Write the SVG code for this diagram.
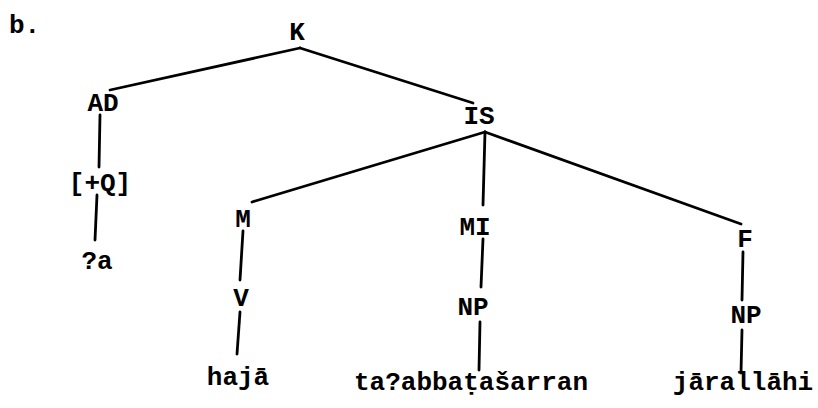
<svg xmlns="http://www.w3.org/2000/svg" width="818" height="408" viewBox="0 0 818 408">
<style>
text{font-family:"Liberation Mono","DejaVu Sans Mono",monospace;font-size:26px;font-weight:bold;fill:#000;text-anchor:middle}
.e line{stroke:#000;stroke-width:2.8;stroke-linecap:round}
</style>
<rect width="818" height="408" fill="#fff"/>
<text x="9" y="33" style="text-anchor:start">b.</text>
<g class="e" id="edges">
<line x1="300" y1="48" x2="110" y2="90"/>
<line x1="300" y1="48" x2="473" y2="103"/>
<line x1="100" y1="115" x2="99" y2="167"/>
<line x1="97" y1="195" x2="95" y2="240"/>
<line x1="485" y1="132" x2="252" y2="202"/>
<line x1="485" y1="132" x2="483" y2="205"/>
<line x1="485" y1="132" x2="741" y2="224"/>
<line x1="243" y1="231" x2="240" y2="280"/>
<line x1="240" y1="312" x2="237" y2="354"/>
<line x1="483" y1="239" x2="481" y2="287"/>
<line x1="480" y1="322" x2="479" y2="370"/>
<line x1="743" y1="252" x2="742" y2="300"/>
<line x1="742" y1="330" x2="741" y2="373"/>
</g>
<g id="K"><text x="297" y="40">K</text></g>
<g id="AD"><text x="103" y="111">AD</text></g>
<g id="Q"><text x="100" y="191">[+Q]</text></g>
<g id="a"><text x="97" y="269">?a</text></g>
<g id="IS"><text x="479" y="124">IS</text></g>
<g id="M"><text x="243" y="227">M</text></g>
<g id="MI"><text x="475" y="235">MI</text></g>
<g id="F"><text x="745" y="247">F</text></g>
<g id="V"><text x="241" y="306">V</text></g>
<g id="NP1"><text x="473" y="315">NP</text></g>
<g id="NP2"><text x="746" y="323">NP</text></g>
<g id="haja"><text x="238" y="385">hajā</text></g>
<g id="ta"><text x="471" y="390">ta?abbaṭašarran</text></g>
<g id="jar"><text x="743" y="390">jārallāhi</text></g>
</svg>
